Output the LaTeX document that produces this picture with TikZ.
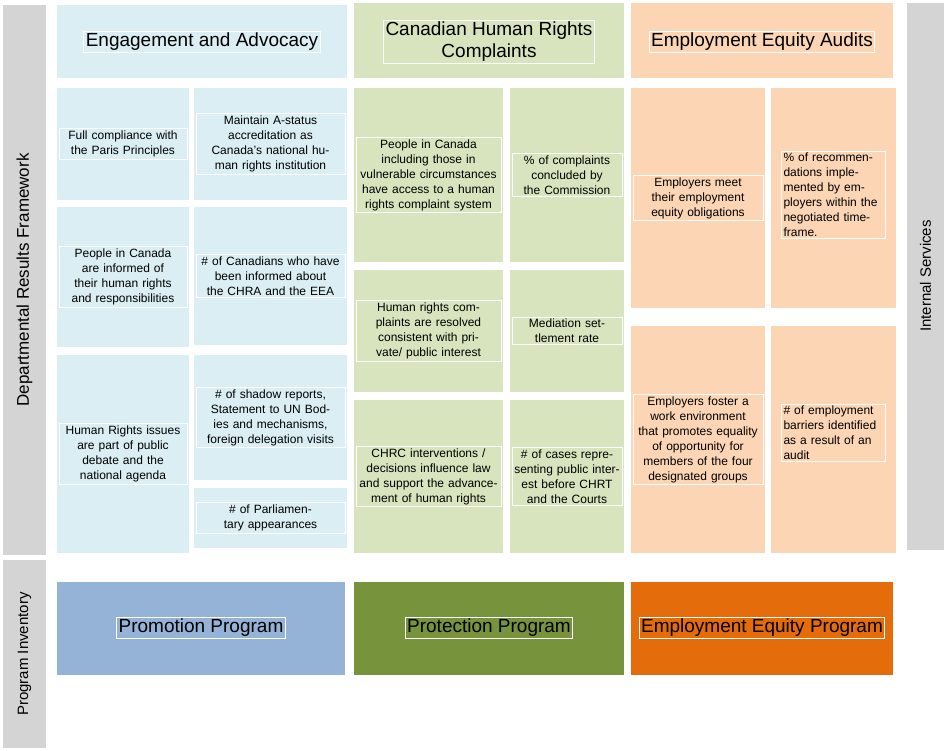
\documentclass[tikz,border=0pt]{standalone}
\usepackage{fontspec}
\setmainfont{Liberation Sans}
\begin{document}
\begin{tikzpicture}[x=1pt,y=-1pt,
  box/.style={draw=white,line width=1pt,align=center,inner sep=2pt,font=\fontsize{12}{15}\selectfont},
  hdr/.style={box,font=\fontsize{19}{22}\selectfont},
  gray/.style={box,fill=black!17,font=\fontsize{17}{20}\selectfont}]
\useasboundingbox (0,0) rectangle (951,751);
\definecolor{lb}{HTML}{DAEEF3}\definecolor{lg}{HTML}{D7E4BD}\definecolor{lo}{HTML}{FCD5B5}
\definecolor{pb}{HTML}{95B3D7}\definecolor{pg}{HTML}{77933C}\definecolor{po}{HTML}{E46C0A}
\newcommand\cell[7]{\fill[#1] (#3,#4) rectangle (#5,#6); \node[box,text width=#5-#3-8] (#2) at ({(#3+#5)/2},{(#4+#6)/2}) {#7};}
% side bars
\fill[black!17] (3,5) rectangle (46,555); \node[rotate=90,font=\fontsize{17}{20}\selectfont] (drf) at (24.5,280) {Departmental Results Framework};
\fill[black!17] (3,560) rectangle (46,748); \node[rotate=90,font=\fontsize{15}{18}\selectfont] (pi) at (24.5,654) {Program Inventory};
\fill[black!17] (907,3) rectangle (944,550); \node[rotate=90,font=\fontsize{15}{18}\selectfont] (is) at (925.5,276) {Internal Services};
% headers
\fill[lb] (57,5) rectangle (347,78); \node[hdr] (h1) at (202,42) {Engagement and Advocacy};
\fill[lg] (354,3) rectangle (624,78); \node[hdr] (h2) at (489,42) {Canadian Human Rights\\Complaints};
\fill[lo] (631,3) rectangle (893,78); \node[hdr] (h3) at (762,42) {Employment Equity Audits};
% col 1
\cell{lb}{a1}{57}{88}{189}{200}{Full compliance with the Paris Principles}
\cell{lb}{a2}{194}{88}{347}{200}{Maintain A-status accreditation as Canada's national human rights institution}
\cell{lb}{a3}{57}{207}{189}{347}{People in Canada are informed of their human rights and responsibilities}
\cell{lb}{a4}{194}{207}{347}{345}{\# of Canadians who have been informed about the CHRA and the EEA}
\cell{lb}{a5}{57}{355}{189}{553}{Human Rights issues are part of public debate and the national agenda}
\cell{lb}{a6}{194}{355}{347}{480}{\# of shadow reports, Statement to UN Bodies and mechanisms, foreign delegation visits}
\cell{lb}{a7}{194}{488}{347}{548}{\# of Parliamentary appearances}
% col 2
\cell{lg}{b1}{354}{88}{503}{262}{People in Canada including those in vulnerable circumstances have access to a human rights complaint system}
\cell{lg}{b2}{510}{88}{624}{262}{\% of complaints concluded by the Commission}
\cell{lg}{b3}{354}{270}{503}{392}{Human rights complaints are resolved consistent with private/ public interest}
\cell{lg}{b4}{510}{270}{624}{392}{Mediation settlement rate}
\cell{lg}{b5}{354}{400}{503}{553}{CHRC interventions / decisions influence law and support the advancement of human rights}
\cell{lg}{b6}{510}{400}{624}{553}{\# of cases representing public interest before CHRT and the Courts}
% col 3
\cell{lo}{c1}{631}{88}{765}{308}{Employers meet their employment equity obligations}
\fill[lo] (771,88) rectangle (896,308);
\node[box,text width=100,align=left] (c2) at (833.5,195) {\% of recommendations implemented by employers within the negotiated timeframe.};
\cell{lo}{c3}{631}{326}{765}{553}{Employers foster a work environment that promotes equality of opportunity for members of the four designated groups}
\fill[lo] (771,326) rectangle (896,553);
\node[box,text width=100,align=left] (c4) at (833.5,433) {\# of employment barriers identified as a result of an audit};
% programs
\fill[pb] (57,582) rectangle (345,675); \node[hdr] (p1) at (201,628) {Promotion Program};
\fill[pg] (354,582) rectangle (624,675); \node[hdr] (p2) at (489,628) {Protection Program};
\fill[po] (631,582) rectangle (893,675); \node[hdr] (p3) at (762,628) {Employment Equity Program};
\end{tikzpicture}
\end{document}
